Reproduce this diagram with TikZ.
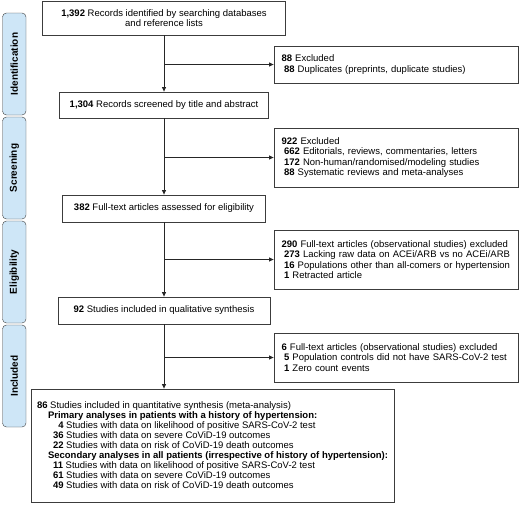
\documentclass[tikz,border=0pt]{standalone}
\usepackage{fontspec}
\setmainfont{Liberation Sans}
\usetikzlibrary{arrows.meta}
\definecolor{stagefill}{RGB}{206,230,247}
\definecolor{boxline}{RGB}{60,60,60}
\newcommand{\exitem}[1]{\hspace*{2.5pt}\textbf{#1}}
\newcommand{\qitem}[1]{\hspace*{16pt}\textbf{#1}}
\newcommand{\qhead}[1]{\hspace*{11pt}\textbf{#1}}

\begin{document}
\begin{tikzpicture}[x=1pt,y=-1pt,
    font=\fontsize{9.5}{10.5}\selectfont,
    mainbox/.style={draw=boxline, line width=0.8pt, align=center, inner sep=0pt},
    exclbox/.style={draw=boxline, line width=0.8pt, align=left, text width=229pt, inner xsep=7.5pt, inner ysep=0pt},
    stage/.style={draw=boxline, fill=stagefill, rounded corners=4pt, rotate=90, minimum width=102pt, minimum height=23.5pt, inner sep=0pt, font=\fontsize{10}{12}\selectfont\bfseries},
    flow/.style={draw=black!85, line width=0.8pt, -{Triangle[length=4.5pt,width=4pt]}}]
\useasboundingbox (0,0) rectangle (520,504);
% stages
\node[stage] (ident) at (14.25,64) {Identification};
\node[stage] (screen) at (14.25,168) {Screening};
\node[stage] (elig) at (14.25,272) {Eligibility};
\node[stage] (incl) at (14.25,376) {Included};
% main column
\node[mainbox, font=\fontsize{9.5}{10}\selectfont, minimum width=243pt, minimum height=34pt] (recid) at (164,18)
    {\textbf{1,392} Records identified by searching databases\\and reference lists};
\node[mainbox, minimum width=209pt, minimum height=26pt] (recscr) at (164,105)
    {\textbf{1,304} Records screened by title and abstract};
\node[mainbox, minimum width=203pt, minimum height=27pt] (fulltext) at (164,208.5)
    {\textbf{382} Full-text articles assessed for eligibility};
\node[mainbox, minimum width=212pt, minimum height=27pt] (qualsyn) at (164,310.5)
    {\textbf{92} Studies included in qualitative synthesis};
\node[mainbox, align=left, font=\fontsize{9.5}{10}\selectfont, minimum width=363pt, minimum height=113pt, inner xsep=2pt] (quantsyn) at (212.5,445.5)
    {\textbf{86} Studies included in quantitative synthesis (meta-analysis)\\
    \qhead{Primary analyses in patients with a history of hypertension:}\\
    \qitem{\phantom{0}4} Studies with data on likelihood of positive SARS-CoV-2 test\\
    \qitem{36} Studies with data on severe CoViD-19 outcomes\\
    \qitem{22} Studies with data on risk of CoViD-19 death outcomes\\
    \qhead{Secondary analyses in all patients (irrespective of history of hypertension):}\\
    \qitem{11} Studies with data on likelihood of positive SARS-CoV-2 test\\
    \qitem{61} Studies with data on severe CoViD-19 outcomes\\
    \qitem{49} Studies with data on risk of CoViD-19 death outcomes};
% excluded column
\node[exclbox, minimum height=37pt] (excl1) at (396,64.5)
    {\textbf{88} Excluded\\
    \exitem{88} Duplicates (preprints, duplicate studies)};
\node[exclbox, minimum height=59pt] (excl2) at (396,157.5)
    {\textbf{922} Excluded\\
    \exitem{662} Editorials, reviews, commentaries, letters\\
    \exitem{172} Non-human/randomised/modeling studies\\
    \exitem{88} Systematic reviews and meta-analyses};
\node[exclbox, minimum height=59pt] (excl3) at (396,259.5)
    {\textbf{290} Full-text articles (observational studies) excluded\\
    \exitem{273} Lacking raw data on ACEi/ARB vs no ACEi/ARB\\
    \exitem{16} Populations other than all-comers or hypertension\\
    \exitem{1} Retracted article};
\node[exclbox, minimum height=49pt] (excl4) at (396,357.5)
    {\textbf{6} Full-text articles (observational studies) excluded\\
    \exitem{5} Population controls did not have SARS-CoV-2 test\\
    \exitem{1} Zero count events};
% arrows
\draw[flow] (recid) -- (recscr);
\draw[flow] (recid.south |- excl1) -- (excl1);
\draw[flow] (recscr) -- (fulltext);
\draw[flow] (recscr.south |- excl2) -- (excl2);
\draw[flow] (fulltext) -- (qualsyn);
\draw[flow] (fulltext.south |- excl3) -- (excl3);
\draw[flow] (qualsyn) -- (qualsyn.south |- quantsyn.north);
\draw[flow] (qualsyn.south |- excl4) -- (excl4);
\end{tikzpicture}
\end{document}
